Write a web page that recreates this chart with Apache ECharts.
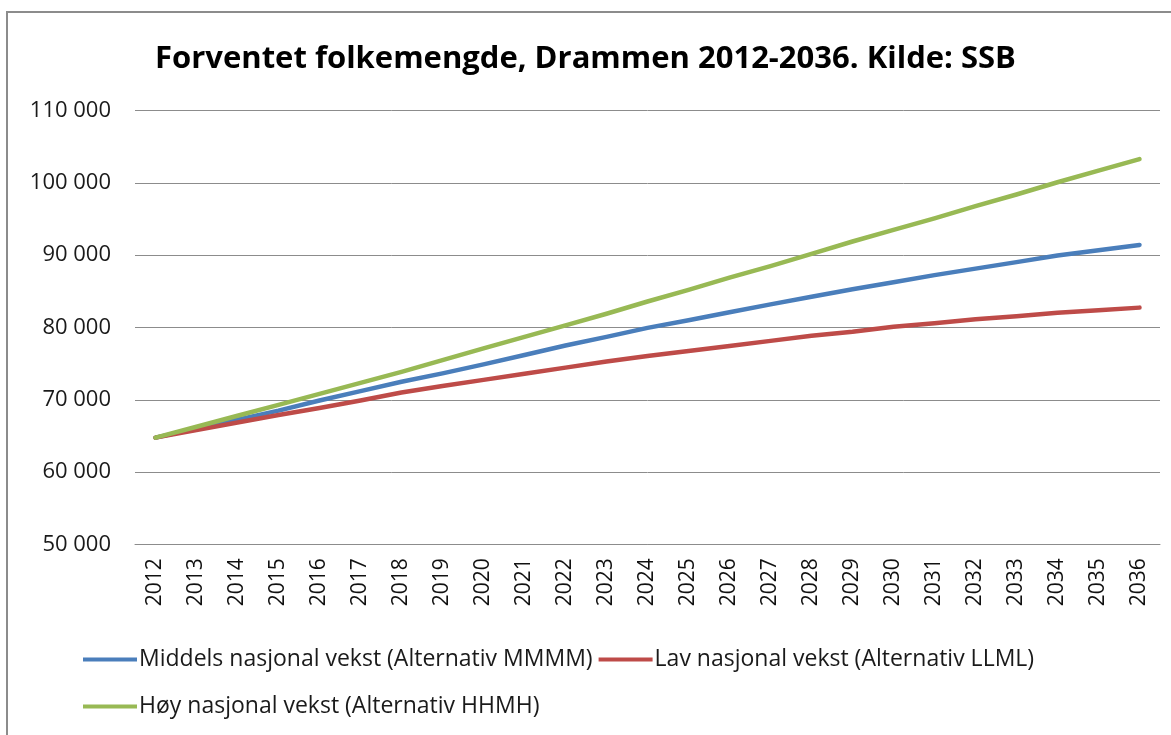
<!DOCTYPE html>
<html lang="no">
<head>
    <meta charset="UTF-8">
    <script src="https://cdn.jsdelivr.net/npm/echarts@6/dist/echarts.min.js"></script>
    <title>Forventet folkemengde, Drammen</title>
    <style>
        html, body { margin: 0; padding: 0; background: #fff; }
        #main { width: 1171px; height: 735px; }
    </style>
</head>
<body>
    <div id="main"></div>
    <script>
        var years = ['2012', '2013', '2014', '2015', '2016', '2017', '2018', '2019', '2020', '2021', '2022', '2023', '2024',
            '2025', '2026', '2027', '2028', '2029', '2030', '2031', '2032', '2033', '2034', '2035', '2036'];
        var middels = [64760, 66000, 67250, 68500, 69900, 71200, 72500, 73650, 74900, 76200, 77500, 78700, 79950,
            81000, 82100, 83200, 84250, 85300, 86250, 87250, 88150, 89050, 89950, 90700, 91430];
        var lav = [64760, 65800, 66850, 67900, 68850, 69900, 71000, 71900, 72750, 73600, 74450, 75300, 76050,
            76750, 77450, 78150, 78850, 79400, 80100, 80600, 81150, 81550, 82050, 82400, 82750];
        var hoy = [64760, 66270, 67790, 69300, 70820, 72340, 73870, 75480, 77100, 78700, 80300, 81900, 83600,
            85200, 86900, 88500, 90200, 91900, 93500, 95100, 96800, 98400, 100100, 101700, 103300];
        var names = ['Middels nasjonal vekst (Alternativ MMMM)', 'Lav nasjonal vekst (Alternativ LLML)', 'Høy nasjonal vekst (Alternativ HHMH)'];
        var colors = ['#4a7ebb', '#be4b48', '#98b954'];

        var font = '"Open Sans", "DejaVu Sans", sans-serif';
        var chart = echarts.init(document.getElementById('main'));

        // two legend blocks so the rows get the wide spacing of the original
        function legendBox(top, items) {
            return {
                top: top, left: 78, icon: 'rect', itemWidth: 54, itemHeight: 4, itemGap: 6,
                data: items,
                textStyle: { fontFamily: font, fontSize: 23, color: '#1a1a1a', padding: [0, 0, 0, -3] }
            };
        }

        var option = {
            animation: false,
            color: colors,
            title: {
                text: 'Forventet folkemengde, Drammen 2012-2036. Kilde: SSB',
                left: 'center', top: 39,
                textStyle: { fontFamily: font, fontSize: 31, fontWeight: 'bold', color: '#000' }
            },
            graphic: [{
                type: 'rect', shape: { x: 7, y: 12, width: 1200, height: 800 },
                style: { fill: 'none', stroke: '#8c8c8c', lineWidth: 2 }, silent: true
            }],
            legend: [legendBox(643, [names[0], names[1]]), legendBox(690, [names[2]])],
            grid: { left: 135, right: 11, top: 110.7, bottom: 190.7 },
            xAxis: {
                type: 'category', data: years, boundaryGap: true,
                axisLine: { lineStyle: { color: '#8c8c8c', width: 1 } },
                axisTick: { show: false },
                axisLabel: { rotate: 90, margin: 14, fontFamily: font, fontSize: 21, color: '#111', interval: 0 }
            },
            yAxis: {
                type: 'value', min: 50000, max: 110000, interval: 10000,
                axisLine: { show: false }, axisTick: { show: false },
                splitLine: { lineStyle: { color: '#8c8c8c', width: 1 } },
                axisLabel: {
                    margin: 24, fontFamily: font, fontSize: 22, color: '#1a1a1a',
                    formatter: function (v) { return String(v).replace(/\B(?=(\d{3})+(?!\d))/g, ' '); }
                }
            },
            series: [
                { name: names[0], type: 'line', data: middels, showSymbol: false, lineStyle: { width: 4.5, cap: 'round', join: 'round' } },
                { name: names[1], type: 'line', data: lav, showSymbol: false, lineStyle: { width: 4.5, cap: 'round', join: 'round' } },
                { name: names[2], type: 'line', data: hoy, showSymbol: false, lineStyle: { width: 4.5, cap: 'round', join: 'round' } }
            ]
        };
        chart.setOption(option);
    </script>
</body>
</html>
